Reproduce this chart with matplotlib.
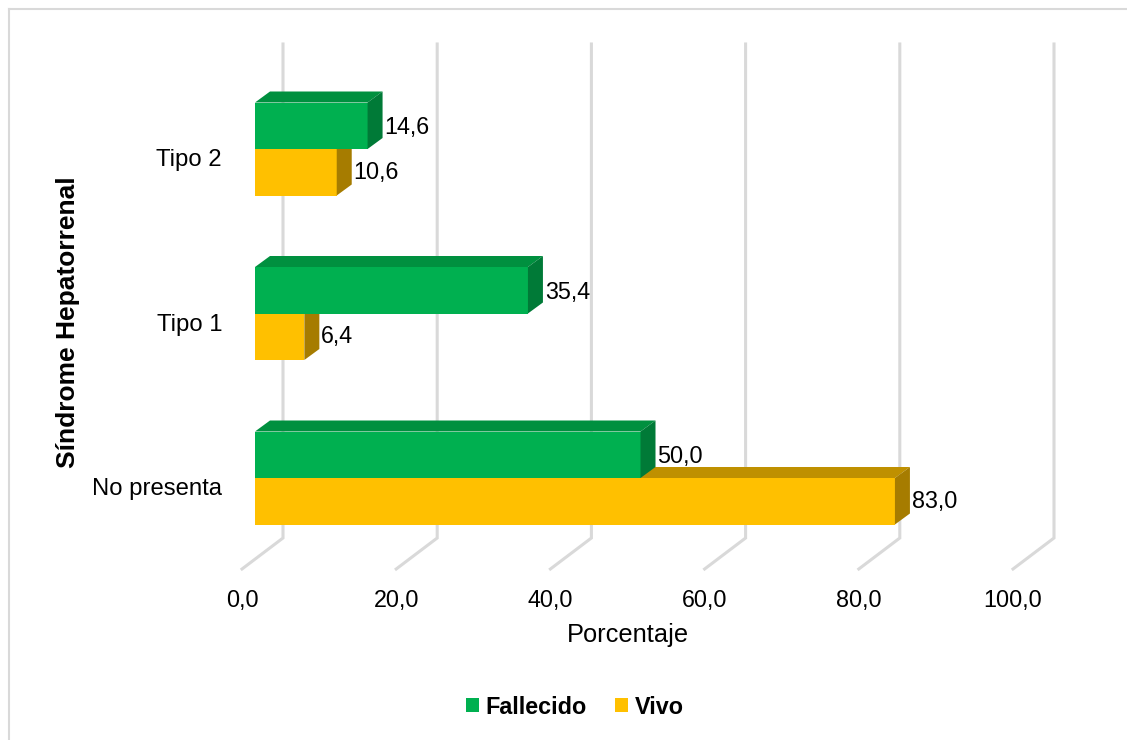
import matplotlib
matplotlib.use("Agg")
import matplotlib.pyplot as plt
from matplotlib.patches import Polygon, Patch
from matplotlib.lines import Line2D

# data
categorias = ["No presenta", "Tipo 1", "Tipo 2"]
fallecido = [50.0, 35.4, 14.6]
vivo = [83.0, 6.4, 10.6]
ticks = [0, 20, 40, 60, 80, 100]

# colours (front, top, side)
verde = ("#00B050", "#00903F", "#007A37")
amarillo = ("#FFC000", "#BF9000", "#A67C00")
gris = "#D9D9D9"

plt.rcParams['font.family'] = ['Liberation Sans', 'DejaVu Sans']

W, H = 1127, 740
fig = plt.figure(figsize=(W / 100, H / 100), dpi=100)
ax = fig.add_axes([0, 0, 1, 1])
ax.axis("off")

# scales: x in %, y in category units
PX = 7.71          # px per %
CAT = 164.5        # px per category
X0, Y0 = 255, 478  # front plane origin (px)
ax.set_xlim(-X0 / PX, (W - X0) / PX)
ax.set_ylim((Y0 - H) / CAT, Y0 / CAT)

bh = 46.5 / CAT                     # bar height
ddx, ddy = 15 / PX, 11 / CAT        # bar depth
wdx, wdy = 28 / PX, 21 / CAT        # back wall offset
fdx, fdy = -13 / PX, -10 / CAT      # floor front offset
g_top = (Y0 - 44) / CAT
g_bot = (Y0 - 538) / CAT - wdy      # floor level at front plane


def bar3d(x, y, h, cols, z):
    front, top, side = cols
    ax.add_patch(Polygon([(0, y), (x, y), (x, y + h), (0, y + h)],
                         closed=True, fc=front, ec="none", zorder=z))
    ax.add_patch(Polygon([(0, y + h), (x, y + h), (x + ddx, y + h + ddy), (ddx, y + h + ddy)],
                         closed=True, fc=top, ec="none", zorder=z))
    ax.add_patch(Polygon([(x, y), (x + ddx, y + ddy), (x + ddx, y + h + ddy), (x, y + h)],
                         closed=True, fc=side, ec="none", zorder=z))


# gridlines (back wall + floor)
for t in ticks:
    ax.plot([t + wdx, t + wdx, t + fdx], [g_top, g_bot + wdy, g_bot + fdy],
            color=gris, lw=2.2, solid_joinstyle="miter", zorder=1)
    ax.text(t + fdx, (Y0 - 601) / CAT, f"{t:.1f}".replace(".", ","),
            ha="center", va="center", fontsize=16.8, color="black")

for i, cat in enumerate(categorias):
    bar3d(vivo[i], i - bh, bh, amarillo, 2 + 2 * (2 - i))
    bar3d(fallecido[i], i, bh, verde, 3 + 2 * (2 - i))
    ax.text(vivo[i] + ddx + 2 / PX, i - bh / 2, f"{vivo[i]:.1f}".replace(".", ","),
            ha="left", va="center", fontsize=16.8, zorder=20)
    ax.text(fallecido[i] + ddx + 2 / PX, i + bh / 2 - 2 / CAT, f"{fallecido[i]:.1f}".replace(".", ","),
            ha="left", va="center", fontsize=16.8, zorder=20)
    ax.text((222 - X0) / PX, i - 11 / CAT, cat, ha="right", va="center", fontsize=17.2)

ax.text((628 - X0) / PX, (Y0 - 635) / CAT, "Porcentaje", ha="center", va="center", fontsize=18.3)
ax.text((68 - X0) / PX, (Y0 - 322) / CAT, "Síndrome Hepatorrenal", ha="center", va="center",
        rotation=90, fontsize=19, fontweight="bold")

handles = [Patch(fc=verde[0], ec="none"), Patch(fc=amarillo[0], ec="none")]
fig.legend(handles, ["Fallecido", "Vivo"], loc="center", bbox_to_anchor=(575 / W, 1 - 707 / H),
           ncol=2, frameon=False, prop={"weight": "bold", "size": 16.8},
           handlelength=0.55, handleheight=0.55, handletextpad=0.3, columnspacing=1.2)

# chart border
fig.add_artist(Line2D([8.5 / W, 8.5 / W], [0, 1 - 8.5 / H], color=gris, lw=1.5))
fig.add_artist(Line2D([8.5 / W, 1], [1 - 8.5 / H, 1 - 8.5 / H], color=gris, lw=1.5))

fig.savefig("out.png", dpi=100)
